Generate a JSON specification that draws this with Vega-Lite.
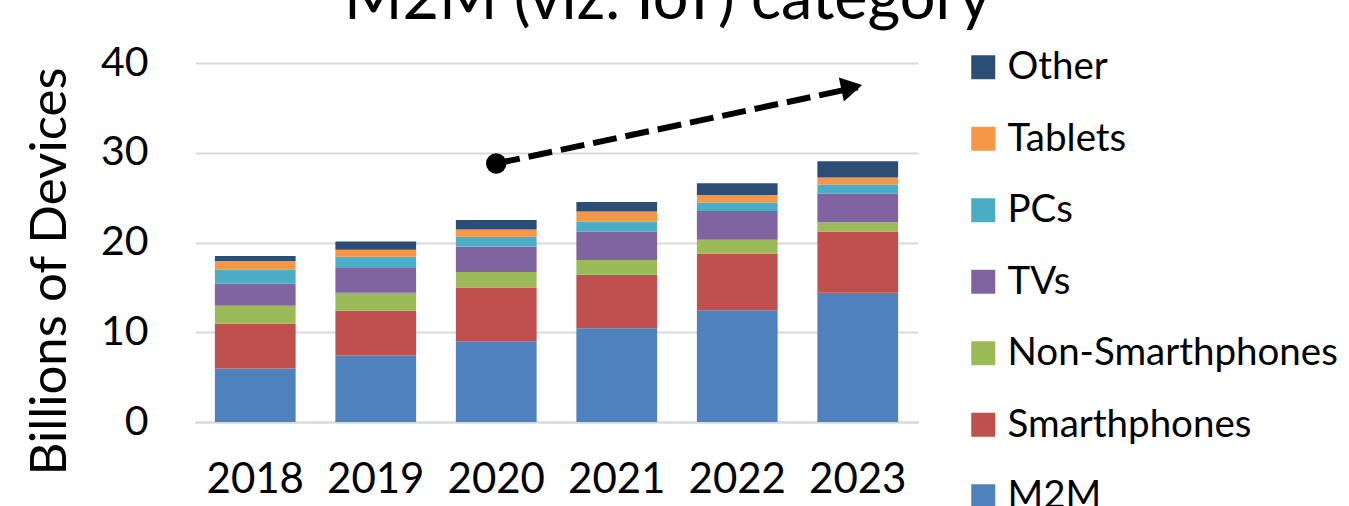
{
  "$schema": "https://vega.github.io/schema/vega-lite/v6.json",
  "width": 723,
  "height": 359,
  "autosize": {"type": "none"},
  "padding": {"left": 195, "top": 63, "right": 431, "bottom": 84},
  "background": "white",
  "config": {
    "font": "Lato",
    "view": {"stroke": null},
    "axis": {"labelFont": "Lato", "titleFont": "Lato", "labelColor": "#000000", "titleColor": "#000000"}
  },
  "title": {
    "text": "M2M (viz. IoT) category",
    "font": "Lato",
    "fontSize": 63,
    "fontWeight": "normal",
    "color": "#000000",
    "anchor": "middle",
    "frame": "group",
    "dx": 111,
    "baseline": "alphabetic",
    "offset": -40
  },
  "datasets": {
    "devices": [
      {"year": "2018", "category": "M2M", "value": 5.95},
      {"year": "2018", "category": "Smarthphones", "value": 5.0},
      {"year": "2018", "category": "Non-Smarthphones", "value": 2.0},
      {"year": "2018", "category": "TVs", "value": 2.45},
      {"year": "2018", "category": "PCs", "value": 1.55},
      {"year": "2018", "category": "Tablets", "value": 1.0},
      {"year": "2018", "category": "Other", "value": 0.55},
      {"year": "2019", "category": "M2M", "value": 7.4},
      {"year": "2019", "category": "Smarthphones", "value": 5.0},
      {"year": "2019", "category": "Non-Smarthphones", "value": 2.0},
      {"year": "2019", "category": "TVs", "value": 2.75},
      {"year": "2019", "category": "PCs", "value": 1.25},
      {"year": "2019", "category": "Tablets", "value": 0.8},
      {"year": "2019", "category": "Other", "value": 0.9},
      {"year": "2020", "category": "M2M", "value": 9.0},
      {"year": "2020", "category": "Smarthphones", "value": 6.0},
      {"year": "2020", "category": "Non-Smarthphones", "value": 1.7},
      {"year": "2020", "category": "TVs", "value": 2.85},
      {"year": "2020", "category": "PCs", "value": 1.1},
      {"year": "2020", "category": "Tablets", "value": 0.8},
      {"year": "2020", "category": "Other", "value": 1.05},
      {"year": "2021", "category": "M2M", "value": 10.45},
      {"year": "2021", "category": "Smarthphones", "value": 5.95},
      {"year": "2021", "category": "Non-Smarthphones", "value": 1.65},
      {"year": "2021", "category": "TVs", "value": 3.15},
      {"year": "2021", "category": "PCs", "value": 1.1},
      {"year": "2021", "category": "Tablets", "value": 1.15},
      {"year": "2021", "category": "Other", "value": 1.05},
      {"year": "2022", "category": "M2M", "value": 12.45},
      {"year": "2022", "category": "Smarthphones", "value": 6.3},
      {"year": "2022", "category": "Non-Smarthphones", "value": 1.55},
      {"year": "2022", "category": "TVs", "value": 3.2},
      {"year": "2022", "category": "PCs", "value": 0.95},
      {"year": "2022", "category": "Tablets", "value": 0.85},
      {"year": "2022", "category": "Other", "value": 1.3},
      {"year": "2023", "category": "M2M", "value": 14.4},
      {"year": "2023", "category": "Smarthphones", "value": 6.8},
      {"year": "2023", "category": "Non-Smarthphones", "value": 1.05},
      {"year": "2023", "category": "TVs", "value": 3.2},
      {"year": "2023", "category": "PCs", "value": 1.0},
      {"year": "2023", "category": "Tablets", "value": 0.8},
      {"year": "2023", "category": "Other", "value": 1.8}
    ],
    "categories": [
      {"category": "M2M", "rank": 1},
      {"category": "Smarthphones", "rank": 2},
      {"category": "Non-Smarthphones", "rank": 3},
      {"category": "TVs", "rank": 4},
      {"category": "PCs", "rank": 5},
      {"category": "Tablets", "rank": 6},
      {"category": "Other", "rank": 7}
    ],
    "trend": [
      {"year": "2020", "value": 28.8},
      {"year": "2023", "value": 37.3}
    ],
    "trendStart": [
      {"year": "2020", "value": 28.8}
    ],
    "trendEnd": [
      {"year": "2023", "value": 37.3}
    ]
  },
  "encoding": {
    "x": {
      "field": "year",
      "type": "nominal",
      "scale": {"domain": ["2018", "2019", "2020", "2021", "2022", "2023"], "paddingInner": 0.33, "paddingOuter": 0.165},
      "axis": {
        "title": null,
        "labelAngle": 0,
        "labelFontSize": 42,
        "labelPadding": 37,
        "ticks": false,
        "domain": true,
        "domainColor": "#d9d9d9",
        "domainWidth": 2
      }
    },
    "y": {
      "field": "value",
      "type": "quantitative",
      "scale": {"domain": [0, 40], "nice": false},
      "axis": {
        "title": "Billions of Devices",
        "titleFontSize": 51,
        "titleFontWeight": "normal",
        "titlePadding": 24,
        "titleY": 208,
        "values": [0, 10, 20, 30, 40],
        "labelFontSize": 41,
        "labelPadding": 47,
        "ticks": false,
        "domain": false,
        "grid": true,
        "gridColor": "#d9d9d9",
        "gridWidth": 2
      }
    }
  },
  "layer": [
    {
      "data": {"name": "devices"},
      "transform": [
        {"lookup": "category", "from": {"data": {"name": "categories"}, "key": "category", "fields": ["rank"]}}
      ],
      "mark": {"type": "bar"},
      "encoding": {
        "color": {
          "field": "category",
          "type": "nominal",
          "scale": {
            "domain": ["Other", "Tablets", "PCs", "TVs", "Non-Smarthphones", "Smarthphones", "M2M"],
            "range": ["#2c4d75", "#f79646", "#4bacc6", "#8064a2", "#9bbb59", "#c0504d", "#4f81bd"]
          },
          "legend": {
            "title": null,
            "orient": "none",
            "legendX": 769,
            "legendY": -15,
            "symbolType": "square",
            "symbolSize": 576,
            "symbolStrokeWidth": 0,
            "labelFontSize": 38.5,
            "labelFont": "Lato",
            "labelColor": "#000000",
            "labelOffset": 5,
            "rowPadding": 32.5,
            "labelLimit": 500
          }
        },
        "order": {"field": "rank", "type": "quantitative", "sort": "ascending"}
      }
    },
    {
      "data": {"name": "trend"},
      "mark": {"type": "line", "color": "#000000", "strokeWidth": 6, "strokeDash": [24, 9]},
      "encoding": {}
    },
    {
      "data": {"name": "trendStart"},
      "mark": {"type": "circle", "color": "#000000", "opacity": 1, "size": 420},
      "encoding": {}
    },
    {
      "data": {"name": "trendEnd"},
      "mark": {"type": "point", "shape": "triangle-right", "filled": true, "color": "#000000", "opacity": 1, "size": 600, "angle": 348, "xOffset": -6},
      "encoding": {}
    }
  ]
}
